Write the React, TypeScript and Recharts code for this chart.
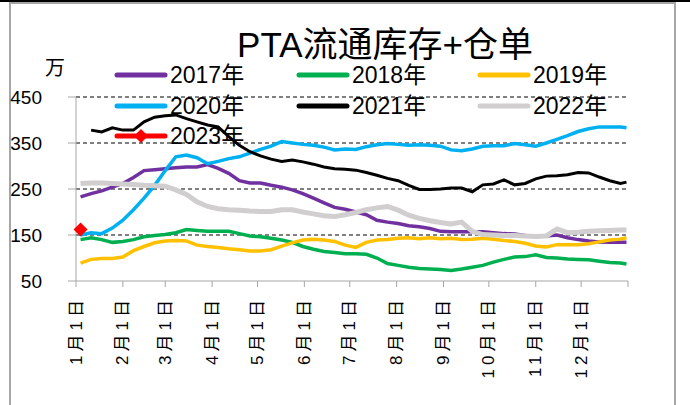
import { Line, LineChart, ReferenceLine, XAxis, YAxis } from 'recharts'

// day-of-year for each weekly sample
const days = [
  3, 10, 17, 24, 31, 38, 45, 52, 59, 66, 73, 80, 87, 94, 101, 108, 115, 122, 129, 136, 143, 150, 157, 164, 171, 178,
  185, 192, 199, 206, 213, 220, 227, 234, 241, 248, 255, 262, 269, 276, 283, 290, 297, 304, 311, 318, 325, 332, 339,
  346, 353, 360, 364,
]

const v2017 = [
  233, 240, 246, 254, 262, 275, 290, 292, 294, 296, 298, 298, 303, 295, 284, 268, 263, 263, 258, 254, 248, 240, 230,
  220, 210, 206, 200, 194, 182, 178, 175, 170, 168, 164, 158, 157, 157, 157, 157, 155, 153, 152, 149, 147, 148, 150,
  144, 140, 137, 135, 134, 134, 134,
]
const v2018 = [
  140, 144, 140, 134, 136, 140, 146, 149, 151, 155, 162, 160, 158, 158, 158, 153, 148, 146, 143, 139, 134, 125, 119,
  114, 112, 109, 109, 108, 100, 88, 84, 80, 77, 76, 75, 73, 76, 80, 84, 91, 97, 102, 103, 107, 101, 100, 98, 97, 96, 93,
  90, 89, 87,
]
const v2019 = [
  89, 97, 99, 99, 102, 116, 125, 133, 137, 138, 137, 128, 125, 123, 120, 118, 115, 115, 118, 126, 133, 139, 141, 139,
  136, 128, 123, 134, 139, 140, 143, 144, 142, 144, 142, 143, 140, 141, 143, 141, 138, 136, 132, 126, 124, 129, 129,
  129, 131, 135, 139, 141, 144,
]
const v2020 = [
  150, 155, 153, 165, 182, 205, 230, 258, 290, 320, 324, 318, 305, 310, 316, 320, 328, 336, 343, 353, 350, 347, 345,
  341, 335, 337, 336, 342, 346, 349, 347, 345, 346, 345, 343, 335, 333, 337, 343, 344, 344, 349, 346, 343, 350, 358,
  366, 375, 381, 385, 385, 385, 383,
]
const v2021 = [
  null, 378, 374, 383, 378, 378, 396, 406, 409, 411, 403, 396, 389, 385, 364, 345, 331, 322, 315, 310, 313, 309, 304,
  298, 294, 293, 291, 286, 280, 273, 268, 258, 249, 249, 250, 252, 252, 244, 259, 261, 270, 259, 262, 272, 278, 279,
  281, 286, 285, 276, 268, 262, 265,
]
const v2022 = [
  262, 263, 263, 262, 261, 260, 258, 257, 256, 248, 238, 222, 212, 207, 205, 204, 202, 201, 201, 205, 205, 200, 196,
  192, 190, 194, 199, 205, 209, 212, 204, 193, 186, 181, 177, 174, 178, 158, 151, 150, 149, 149, 148, 147, 148, 163,
  155, 156, 158, 159, 160, 161, 161,
]
const v2023 = [162]

const monthTicks = [0, 31, 59, 90, 120, 151, 181, 212, 243, 273, 304, 334, 365]
const monthLabels = [
  '1月1日', '2月1日', '3月1日', '4月1日', '5月1日', '6月1日',
  '7月1日', '8月1日', '9月1日', '10月1日', '11月1日', '12月1日', '',
]
const yTicks = [50, 150, 250, 350, 450]
const gridValues = [150, 250, 350, 450]

const series = [
  { key: 'y2017', name: '2017年', color: '#7030A0', width: 3.5 },
  { key: 'y2018', name: '2018年', color: '#00B050', width: 3.5 },
  { key: 'y2019', name: '2019年', color: '#FFC000', width: 3.5 },
  { key: 'y2020', name: '2020年', color: '#00B0F0', width: 3.5 },
  { key: 'y2021', name: '2021年', color: '#000000', width: 3 },
  { key: 'y2022', name: '2022年', color: '#D0CECE', width: 5 },
]

const data = days.map((day, i) => ({
  day,
  y2017: v2017[i],
  y2018: v2018[i],
  y2019: v2019[i],
  y2020: v2020[i],
  y2021: v2021[i],
  y2022: v2022[i],
  y2023: v2023[i] ?? null,
}))

const FONT = '"Liberation Sans", Arial, "Noto Sans CJK SC", sans-serif'

function MonthTick(props: any) {
  const { x, payload } = props
  const label = monthLabels[monthTicks.indexOf(payload.value)] ?? ''
  const y = 296
  return (
    <text
      x={x}
      y={y}
      transform={`rotate(-90 ${x} ${y})`}
      textAnchor="end"
      dominantBaseline="central"
      fontSize={17}
      letterSpacing={4}
      fontFamily={FONT}
      fill="#000"
    >
      {label}
    </text>
  )
}

function Diamond(props: any) {
  const { cx, cy, index } = props
  if (cx == null || cy == null || props.value == null) return <g key={`d${index}`} />
  const r = 7
  return (
    <polygon
      key={`d${index}`}
      points={`${cx},${cy - r} ${cx + r},${cy} ${cx},${cy + r} ${cx - r},${cy}`}
      fill="#FF0000"
    />
  )
}

const legendCols = [115, 297, 478]
const legendRows = [75, 106, 136]

export default function App() {
  const legendItems = [...series, { key: 'y2023', name: '2023年', color: '#FF0000', width: 5 }]
  return (
    <div style={{ position: 'absolute', left: 0, top: 0, width: 690, height: 405, background: '#fff', overflow: 'hidden' }}>
      <div style={{ position: 'absolute', left: 0, top: 0, width: 690, height: 2, background: '#000' }} />
      <div
        style={{
          position: 'absolute',
          left: 9,
          top: 2,
          width: 667,
          height: 420,
          border: '2px solid #A6A6A6',
          boxSizing: 'border-box',
        }}
      />
      <svg width={690} height={405} style={{ position: 'absolute', left: 0, top: 0 }}>
        <text x={385} y={44} textAnchor="middle" dominantBaseline="central" fontSize={35} fontFamily={FONT} fill="#000">
          PTA流通库存+仓单
        </text>
        <text x={55} y={68} textAnchor="middle" dominantBaseline="central" fontSize={20} fontFamily={FONT} fill="#000">
          万
        </text>
        {legendItems.map((s, i) => {
          const x = legendCols[i % 3]
          const y = legendRows[Math.floor(i / 3)]
          return (
            <g key={s.key}>
              <line x1={x + 2} x2={x + 50} y1={y} y2={y} stroke={s.color} strokeWidth={5} strokeLinecap="round" />
              {s.key === 'y2023' && (
                <polygon points={`${x + 26},${y - 7} ${x + 33},${y} ${x + 26},${y + 7} ${x + 19},${y}`} fill="#FF0000" />
              )}
              <text x={x + 55} y={y} dominantBaseline="central" fontSize={23} fontFamily={FONT} fill="#000">
                {s.name}
              </text>
            </g>
          )
        })}
      </svg>
      <div style={{ position: 'absolute', left: 0, top: 0 }}>
        <LineChart width={690} height={405} data={data} margin={{ top: 97, right: 62, left: 0, bottom: 24 }}>
          <XAxis
            dataKey="day"
            type="number"
            domain={[0, 365]}
            ticks={monthTicks}
            interval={0}
            height={100}
            stroke="#A6A6A6"
            tickLine={{ stroke: '#A6A6A6' }}
            tickSize={6}
            tick={<MonthTick />}
          />
          <YAxis
            domain={[50, 450]}
            ticks={yTicks}
            interval={0}
            width={76}
            stroke="#A6A6A6"
            tickLine={{ stroke: '#A6A6A6' }}
            tickSize={8}
            tickMargin={26}
            tick={{ fill: '#000', fontSize: 19, fontFamily: FONT }}
          />
          {gridValues.map((v) => (
            <ReferenceLine key={v} y={v} stroke="#000" strokeDasharray="4 3" strokeWidth={1} />
          ))}
          {series.map((s) => (
            <Line
              key={s.key}
              type="linear"
              dataKey={s.key}
              stroke={s.color}
              strokeWidth={s.width}
              dot={false}
              isAnimationActive={false}
            />
          ))}
          <Line
            type="linear"
            dataKey="y2023"
            stroke="#FF0000"
            strokeWidth={4}
            dot={<Diamond />}
            activeDot={false}
            isAnimationActive={false}
          />
        </LineChart>
      </div>
    </div>
  )
}
